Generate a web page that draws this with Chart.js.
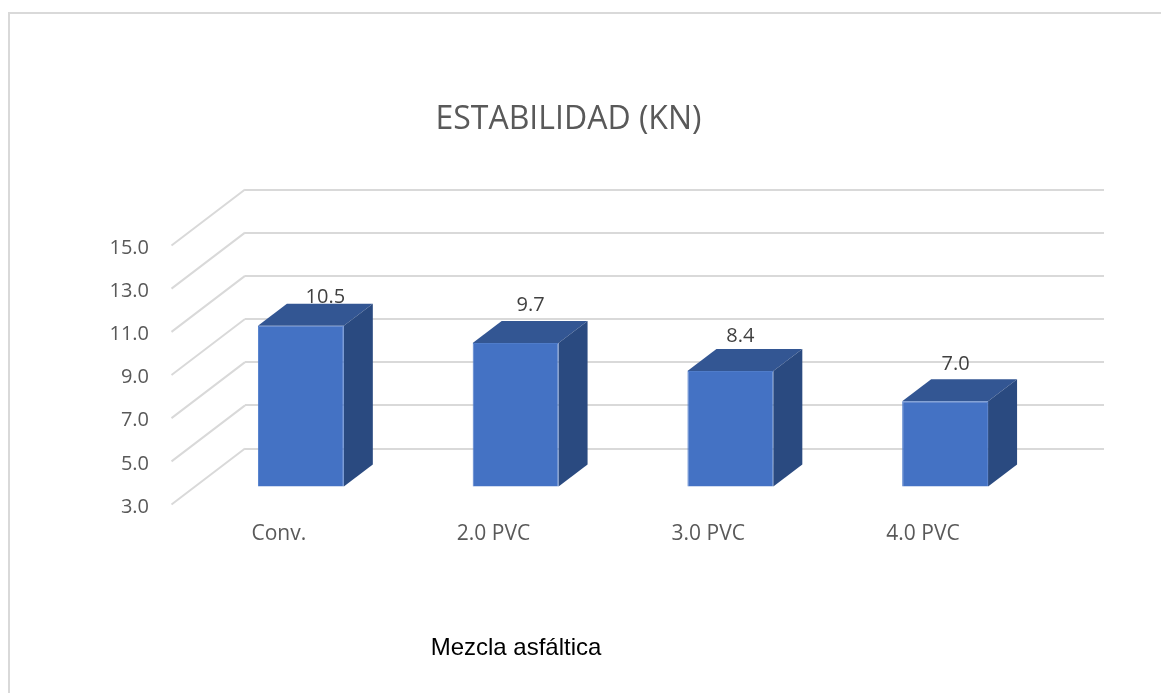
<!DOCTYPE html>
<html lang="es">
<head>
<meta charset="utf-8">
<title>Estabilidad (kN)</title>
<script src="https://cdn.jsdelivr.net/npm/chart.js@4"></script>
<style>
  html, body { margin: 0; padding: 0; background: #fff; overflow: hidden; }
  #wrap { position: relative; width: 1161px; height: 693px; }
  #frame { position: absolute; left: 8px; top: 12px; right: 0; bottom: 0;
           border-left: 2px solid #d9d9d9; border-top: 2px solid #d9d9d9; }
  canvas { position: absolute; left: 0; top: 0; }
</style>
</head>
<body>
<div id="wrap">
  <div id="frame"></div>
  <canvas id="chart" width="1137" height="693" style="width:1137px;height:693px"></canvas>
</div>
<script>
const categories = ['Conv.', '2.0 PVC', '3.0 PVC', '4.0 PVC'];
const estabilidad = [10.5, 9.7, 8.4, 7.0];
const chartTitle = 'ESTABILIDAD (KN)';
const xAxisName = 'Mezcla asfáltica';

// Oblique projection of the 3D box: wall-to-front offset and bar depth.
const FLOOR = { dx: -73.5, dy: 56 };
const FRONT = { dx: -51.5, dy: 39 };
const DEPTH = { dx: 29, dy: -22 };
// Value label displacement from the top centre of each bar's front face.
const LABEL_NUDGE = [[24.5, -28.5], [15, -38], [10, -34.5], [10.5, -37]];

const UI_FONT = '"Open Sans", sans-serif';

const floorLines = {
  id: 'floorLines',
  beforeDatasetsDraw(chart) {
    const { ctx, scales: { x, y } } = chart;
    ctx.save();
    ctx.strokeStyle = '#d9d9d9';
    ctx.lineWidth = 2;
    y.ticks.forEach(t => {
      const py = y.getPixelForValue(t.value);
      ctx.beginPath();
      ctx.moveTo(x.left, py);
      ctx.lineTo(x.left + FLOOR.dx, py + FLOOR.dy);
      ctx.stroke();
    });
    ctx.restore();
  }
};

const box3d = {
  id: 'box3d',
  beforeDatasetDraw(chart, args) {
    const { ctx } = chart;
    ctx.save();
    ctx.translate(FRONT.dx, FRONT.dy);
    args.meta.data.forEach(bar => {
      const { x, y, base, width } = bar.getProps(['x', 'y', 'base', 'width'], true);
      const l = x - width / 2, r = x + width / 2;
      ctx.fillStyle = '#335693';
      ctx.beginPath();
      ctx.moveTo(l, y);
      ctx.lineTo(l + DEPTH.dx, y + DEPTH.dy);
      ctx.lineTo(r + DEPTH.dx, y + DEPTH.dy);
      ctx.lineTo(r, y);
      ctx.closePath();
      ctx.fill();
      ctx.fillStyle = '#2a4a80';
      ctx.beginPath();
      ctx.moveTo(r, y);
      ctx.lineTo(r + DEPTH.dx, y + DEPTH.dy);
      ctx.lineTo(r + DEPTH.dx, base + DEPTH.dy);
      ctx.lineTo(r, base);
      ctx.closePath();
      ctx.fill();
    });
  },
  afterDatasetDraw(chart) {
    chart.ctx.restore();
  },
  afterDatasetsDraw(chart) {
    const { ctx } = chart;
    const meta = chart.getDatasetMeta(0);
    ctx.save();
    ctx.textAlign = 'center';
    ctx.textBaseline = 'middle';
    ctx.font = '20px ' + UI_FONT;
    ctx.fillStyle = '#404040';
    meta.data.forEach((bar, i) => {
      const { x, y } = bar.getProps(['x', 'y'], true);
      const [nx, ny] = LABEL_NUDGE[i];
      ctx.fillText(estabilidad[i].toFixed(1), x + FRONT.dx + nx, y + FRONT.dy + ny);
    });
    ctx.font = '24px "Liberation Sans", Arial, sans-serif';
    ctx.fillStyle = '#000';
    ctx.fillText(xAxisName, 516, 648);
    ctx.restore();
  }
};

new Chart(document.getElementById('chart'), {
  type: 'bar',
  data: {
    labels: categories,
    datasets: [{
      data: estabilidad,
      base: 3,
      backgroundColor: '#4472c4',
      borderColor: '#4f7cca',
      borderWidth: 1,
      barPercentage: 0.4,
      categoryPercentage: 1,
      clip: false
    }]
  },
  plugins: [floorLines, box3d],
  options: {
    responsive: false,
    animation: false,
    layout: { padding: { right: 33, left: 33, top: 0, bottom: 0 } },
    plugins: {
      legend: { display: false },
      tooltip: { enabled: false },
      title: {
        display: true,
        text: chartTitle,
        color: '#595959',
        font: { family: UI_FONT, size: 32, weight: 'normal', lineHeight: 1.2 },
        padding: { top: 100.5, bottom: 50.6 }
      }
    },
    scales: {
      x: {
        grid: { display: false },
        border: { display: false },
        afterFit(s) { s.height = 244.5; },
        ticks: {
          color: '#595959',
          font: { family: UI_FONT, size: 21 },
          padding: 65,
          labelOffset: -73.6,
          maxRotation: 0,
          autoSkip: false
        }
      },
      y: {
        min: 3,
        max: 15,
        afterFit(s) { s.width = 212; },
        grid: { color: '#d9d9d9', lineWidth: 2, drawTicks: false },
        border: { display: false },
        ticks: {
          stepSize: 2,
          color: '#595959',
          font: { family: UI_FONT, size: 20 },
          padding: 96,
          labelOffset: 58.5,
          callback: v => v.toFixed(1)
        }
      }
    }
  }
});
</script>
</body>
</html>
